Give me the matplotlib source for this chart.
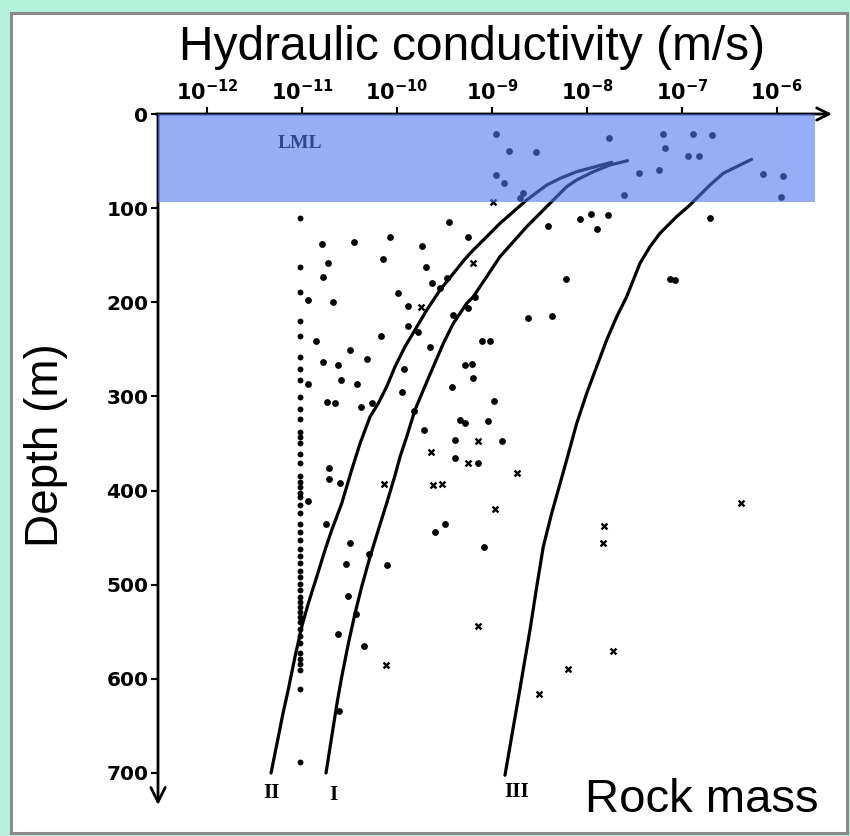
import matplotlib
matplotlib.use("Agg")
import matplotlib.pyplot as plt
from matplotlib.patches import Rectangle
import numpy as np

# ---------------- data ----------------
decade_exponents = [-12, -11, -10, -9, -8, -7, -6]
depth_ticks = [0, 100, 200, 300, 400, 500, 600, 700]
lml_depth = 94  # lower boundary of the LML zone (m)

# scattered dots: log10(K) and depth (m)
dot_logk = [-8.958, -8.818, -8.537, -8.958, -8.871, -8.71, -8.677, -7.765, -7.453, -7.607,
            -7.239, -7.204, -7.179, -6.887, -6.681, -6.934, -6.821, -6.144, -5.933, -5.958,
            -10.793, -10.453, -10.074, -9.449, -9.249, -9.74, -10.73, -10.144, -9.695, -10.782,
            -9.635, -9.477, -9.547, -10.94, -10.677, -9.993, -9.887, -9.179, -9.407, -9.249,
            -9.881, -9.776, -10.168, -10.853, -9.653, -10.495, -10.319, -9.108, -9.021, -9.284,
            -9.214, -9.204, -10.776, -10.624, -10.934, -10.593, -10.424, -9.926, -9.951, -9.424,
            -8.976, -10.74, -10.649, -10.379, -10.267, -9.818, -9.337, -9.284, -9.045, -9.389,
            -9.389, -9.151, -10.713, -10.716, -10.6, -10.94, -10.751, -9.6, -9.495, -10.495,
            -10.537, -10.292, -10.109, -9.081, -10.513, -10.432, -10.624, -10.344, -10.607, -8.407,
            -8.074, -7.961, -7.776, -7.892, -6.705, -8.224, -7.126, -7.074, -8.624, -8.365,
            -8.898, -9.713]
dot_depth = [21.6, 39.3, 40.0, 64.8, 73.0, 89.6, 84.3, 25.8, 62.4, 86.4,
             59.5, 21.6, 35.8, 21.6, 22.3, 44.6, 44.3, 64.1, 65.9, 88.5,
             138.5, 135.7, 130.4, 115.1, 130.4, 140.3, 158, 154.4, 162.3, 172.9,
             179.3, 174.6, 185.2, 197.7, 199.5, 190.6, 203.7, 194.1, 213.6, 206.5,
             225.3, 231.3, 235.9, 240.9, 247.3, 250.8, 260.7, 240.9, 240.9, 266.7,
             265.7, 280.2, 263.9, 266.7, 287.2, 282.7, 286.9, 271, 295.1, 289.8,
             304.7, 306.4, 307.4, 311.1, 307.4, 315.3, 325.2, 328, 326.2, 346.4,
             365.9, 371.2, 375.5, 388.2, 391.8, 411, 435, 443.9, 436, 455.6,
             477.5, 467.6, 479.3, 459.8, 511.9, 531.3, 551.9, 565.4, 634.4, 119,
             111.6, 106.3, 107, 122.5, 110.8, 175.3, 175.3, 176.4, 217.1, 214.7,
             347.2, 335.8]

# dense column of values near 1e-11
column_logk = -11.02
column_depth = [110.9, 162, 189, 220, 236, 258, 271, 283, 301, 313, 324, 338, 343, 350,
                361, 371, 384, 391, 396, 403, 407, 415, 424, 435, 444, 453, 462, 470, 477,
                485, 492, 499, 506, 513, 518, 524, 529, 534, 540, 547, 555, 562, 573, 579,
                584, 591, 611, 688]

# cross markers
cross_logk = [-8.993, -9.204, -9.747, -9.151, -9.642, -9.249, -10.134, -9.618, -9.53, -8.968,
              -10.119, -9.144, -8.74, -6.379, -7.821, -7.828, -7.723, -8.203, -8.502]
cross_depth = [93.2, 158, 205.4, 347.5, 358.9, 370.5, 393.2, 394.3, 393.2, 420.1,
               585.5, 543.8, 381.8, 413.7, 437.8, 456.2, 570.7, 589.8, 615.6]

# fitted curves I, II, III (log10 K, depth)
curve_I_logk = [-7.572, -7.758, -7.933, -8.109, -8.214, -8.389, -8.529, -8.635, -8.775,
                -8.916, -9.056, -9.197, -9.266, -9.407, -9.512, -9.618, -9.723, -9.811,
                -9.898, -9.968, -10.021, -10.109, -10.197, -10.284, -10.372, -10.442,
                -10.512, -10.582, -10.626, -10.685, -10.747]
curve_I_depth = [49.6, 54.2, 61.3, 70.1, 77.3, 94.9, 109.1, 119.8, 135.7,
                 151.6, 172.9, 194.1, 201.2, 222.4, 243.7, 268.5, 293.3, 314.6,
                 342.9, 364.2, 384, 413.7, 442, 470.5, 502.3, 530.6,
                 562.5, 598, 622.7, 660, 700]
curve_II_logk = [-7.74, -8.109, -8.284, -8.424, -8.635, -8.775, -8.916, -9.056, -9.197,
                 -9.284, -9.547, -9.687, -9.811, -9.916, -10.021, -10.109, -10.197, -10.284,
                 -10.389, -10.477, -10.582, -10.687, -10.758, -10.845, -10.934, -11.003,
                 -11.074, -11.146, -11.2, -11.262, -11.326]
curve_II_depth = [51.3, 61.3, 68.4, 75.5, 91.4, 103.8, 116.2, 130.4, 144.5,
                  154, 187, 208.3, 229.5, 247.3, 268.5, 289.8, 307.4, 321.7,
                  350, 378, 413.7, 442, 463.3, 491.7, 520, 544.8,
                  576.7, 612.1, 636.6, 668, 700]
curve_III_logk = [-6.267, -6.425, -6.565, -6.705, -6.811, -6.916, -7.056, -7.232, -7.337,
                  -7.442, -7.512, -7.582, -7.687, -7.793, -7.898, -8.003, -8.108, -8.214,
                  -8.29, -8.372, -8.46, -8.529, -8.6, -8.666, -8.72, -8.787, -8.863]
curve_III_depth = [48.2, 56, 63, 75.5, 86.1, 96.7, 109, 126.8, 141,
                   158.7, 176.4, 194.1, 215.4, 240.2, 268.5, 296.8, 328.7, 367.7,
                   395, 424.4, 459.8, 502.3, 548.3, 587.3, 619.2, 658.1, 702.4]
curve_names = ["I", "II", "III"]
curve_label_logk = [-10.674, -11.316, -8.737]
curve_label_depth = [723, 721, 720]

# ---------------- figure ----------------
W, H = 850, 836
fig = plt.figure(figsize=(W / 100, H / 100), dpi=100)
fig.patch.set_facecolor("#b4f2dc")
fig.patches.append(Rectangle((11 / W, 1 - 833 / H), (836 / W), (820 / H),
                             transform=fig.transFigure, facecolor="white",
                             edgecolor="#8a8a8a", linewidth=2.2, zorder=-5))

x0, x1 = 158, 832
y0, y1 = 114, 805
ax = fig.add_axes([x0 / W, 1 - y1 / H, (x1 - x0) / W, (y1 - y0) / H])
ax.set_zorder(1)
ax.set_facecolor("none")
ax.set_xscale("log")
ax.set_xlim(10 ** -12.516, 10 ** -5.42)
ax.set_ylim(734, 0)

for s in ax.spines.values():
    s.set_visible(False)

# axes arrows
ax.annotate("", xy=(1.0, 1.0), xytext=(-0.003, 1.0), xycoords="axes fraction",
            arrowprops=dict(arrowstyle="->", lw=2.0, color="black",
                            shrinkA=0, shrinkB=0, mutation_scale=22), zorder=3)
ax.annotate("", xy=(0.0, 0.0), xytext=(0.0, 1.0), xycoords="axes fraction",
            arrowprops=dict(arrowstyle="->", lw=2.0, color="black",
                            shrinkA=0, shrinkB=0, mutation_scale=26), zorder=3)

ax.xaxis.set_ticks_position("top")
ax.xaxis.set_label_position("top")
ax.set_xticks([10.0 ** e for e in decade_exponents])
ax.set_xticklabels([r"$\mathbf{10^{%d}}$" % e for e in decade_exponents])
ax.xaxis.set_minor_locator(matplotlib.ticker.NullLocator())
ax.set_yticks(depth_ticks)
ax.set_yticklabels([str(d) for d in depth_ticks])
ax.tick_params(axis="x", which="major", direction="out", length=5, width=1.5,
               labelsize=15, pad=2)
ax.tick_params(axis="y", which="major", direction="out", length=5, width=1.5,
               labelsize=14.5, pad=2)
for lab in ax.get_yticklabels():
    lab.set_fontweight("bold")

# points
ax.scatter([10.0 ** v for v in dot_logk], dot_depth, s=24, color="black", zorder=2,
           linewidths=0)
ax.scatter([10.0 ** column_logk] * len(column_depth), column_depth, s=18, color="black",
           zorder=2, linewidths=0)
ax.scatter([10.0 ** v for v in cross_logk], cross_depth, s=18, marker="x", color="black",
           linewidths=1.7, zorder=2)

# curves
for lk, dp in [(curve_I_logk, curve_I_depth),
               (curve_II_logk, curve_II_depth),
               (curve_III_logk, curve_III_depth)]:
    ax.plot([10.0 ** v for v in lk], dp, color="black", lw=2.3, zorder=2,
            solid_capstyle="round", solid_joinstyle="round")
for name, lk, dp in zip(curve_names, curve_label_logk, curve_label_depth):
    ax.text(10.0 ** lk, dp, name, ha="center", va="center",
            family="Liberation Serif", fontweight="bold", fontsize=15, zorder=2)

ax.text(10.0 ** -11.02, 31, "LML", ha="center", va="center", family="Liberation Serif",
        fontweight="bold", fontsize=14, color="black", zorder=2)

# LML band (drawn over, tinted)
ax.add_patch(Rectangle((0.0, 0), 0.975, lml_depth, transform=ax.get_yaxis_transform(),
                       facecolor="#5078f3", alpha=0.6, edgecolor="none", zorder=4))

# titles
fig.text(472 / W, 1 - 47 / H, "Hydraulic conductivity (m/s)", ha="center", va="center",
         family="Liberation Sans", fontsize=34.5)
fig.text(46 / W, 1 - 445 / H, "Depth (m)", ha="center", va="center", rotation=90,
         family="Liberation Sans", fontsize=33)
fig.text(702 / W, 1 - 800 / H, "Rock mass", ha="center", va="center",
         family="Liberation Sans", fontsize=34)

fig.savefig("out.png", dpi=100, facecolor=fig.get_facecolor())
